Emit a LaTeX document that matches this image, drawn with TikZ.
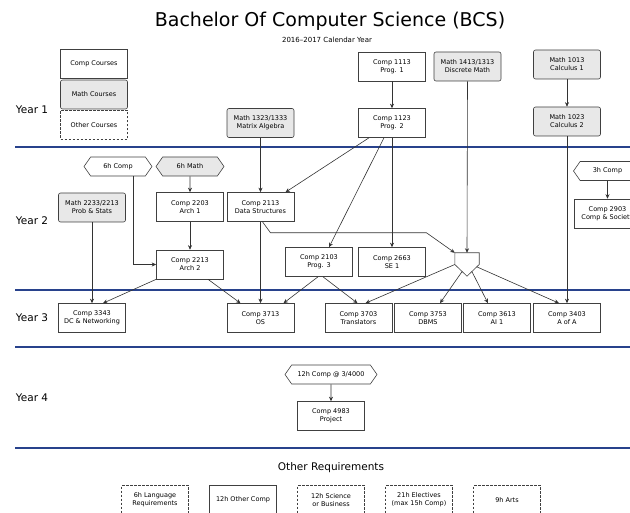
\documentclass[tikz,border=0pt]{standalone}
\usepackage{fontspec}
\setmainfont{DejaVu Sans}
\usetikzlibrary{shapes.symbols,arrows.meta,calc}
\definecolor{yearline}{RGB}{40,66,140}

\begin{document}
\begin{tikzpicture}[x=1pt,y=-1pt,
        font=\fontsize{6.5}{8}\selectfont,
        >={Stealth[length=4.5pt,width=4pt]},
        every node/.style={align=center,inner sep=1pt},
        compbox/.style={draw=black!75,line width=.6pt,fill=white,minimum width=67pt,minimum height=29pt},
        mathbox/.style={compbox,fill=gray!18,rounded corners=2pt},
        otherbox/.style={compbox,dash pattern=on 2.5pt off 1.5pt},
        hours/.style={draw=black!75,line width=.6pt,fill=white,signal,signal to=west and east,
        signal pointer angle=110,minimum width=68pt,minimum height=19pt},
        conn/.style={->,draw=black!80,line width=.6pt}]
        \useasboundingbox (0,0) rectangle (630,513);
        \clip (0,0) rectangle (630,513);

        \node (T) at (330,21.5) {\fontsize{19}{22}\selectfont Bachelor Of Computer Science (BCS)};
        \node (ST) at (327,40) {\fontsize{7}{8}\selectfont 2016--2017 Calendar Year};

        \foreach \y in {147,290,347,448}
            \draw[yearline,line width=2.5pt] (15,\y) -- (630,\y);
        \foreach \i/\y in {1/110, 2/221, 3/318, 4/398}
            \node (Y\i) at (32,\y) {\fontsize{10.5}{12}\selectfont Year \i};

        % legend
        \node[compbox] (LC) at (94,63.5) {Comp Courses};
        \node[mathbox] (LM) at (94,94.5) {Math Courses};
        \node[otherbox] (LO) at (94,125) {Other Courses};

        % Year 1
        \node[compbox] (P1) at (392,66.5) {Comp 1113\\Prog. 1};
        \node[mathbox] (DM) at (467.5,66.5) {Math 1413/1313\\Discrete Math};
        \node[mathbox] (C1) at (567,64.5) {Math 1013\\Calculus 1};
        \node[compbox] (P2) at (392,123) {Comp 1123\\Prog. 2};
        \node[mathbox] (C2) at (567,121.5) {Math 1023\\Calculus 2};
        \node[mathbox] (MA) at (260.5,123) {Math 1323/1333\\Matrix Algebra};

        % Year 2
        \node[hours] (SC) at (118,166.5) {6h Comp};
        \node[hours,fill=gray!18] (SM) at (190,166.5) {6h Math};
        \node[mathbox] (PS) at (92,207.5) {Math 2233/2213\\Prob \& Stats};
        \node[compbox] (A1) at (190,207) {Comp 2203\\Arch 1};
        \node[compbox] (DS) at (260.5,207) {Comp 2113\\Data Structures};
        \node[compbox] (A2) at (190,264.5) {Comp 2213\\Arch 2};
        \node[compbox] (P3) at (319,262) {Comp 2103\\Prog. 3};
        \node[compbox] (SE) at (392,262) {Comp 2663\\SE 1};
        \node[minimum width=24pt,minimum height=23pt,inner sep=0pt] (J) at (467,264.5) {};
        \draw[draw=black!75,line width=.6pt] (J.north west) -- (J.north east) -- (J.east) -- (J.south) -- (J.west) -- cycle;
        \node[hours] (TC) at (607.5,171) {3h Comp};
        \node[compbox] (CS) at (607.5,213.5) {Comp 2903\\Comp \& Society};

        % Year 3
        \node[compbox] (DC) at (92,318) {Comp 3343\\DC \& Networking};
        \node[compbox] (OS) at (260.5,318) {Comp 3713\\OS};
        \node[compbox] (TR) at (358.5,318) {Comp 3703\\Translators};
        \node[compbox] (DB) at (428,318) {Comp 3753\\DBMS};
        \node[compbox] (AI) at (497,318) {Comp 3613\\AI 1};
        \node[compbox] (AA) at (567,318) {Comp 3403\\A of A};

        % Year 4
        \node[hours,minimum width=92pt] (HX) at (331,374.5) {12h Comp @ 3/4000};
        \node[compbox] (PJ) at (331,416) {Comp 4983\\Project};

        % other requirements
        \node (OR) at (331,468) {\fontsize{10.5}{12}\selectfont Other Requirements};
        \foreach \i/\x/\s/\t in {1/155/otherbox/{6h Language\\Requirements}, 2/243/compbox/{12h Other Comp},
            3/331/otherbox/{12h Science\\or Business}, 4/419/otherbox/{21h Electives\\(max 15h Comp)},
            5/507/otherbox/{9h Arts}}
            \node[\s] (R\i) at (\x,500) {\t};

        % prerequisites
        \draw[conn] (P1) -- (P2);
        \draw[conn] (C1) -- (C2);
        \draw[conn] (MA) -- (DS);
        \draw[conn] ([xshift=-23pt]P2.south) -- ([xshift=25pt]DS.north);
        \draw[conn] ([xshift=-8pt]P2.south) -- ([xshift=10pt]P3.north);
        \draw[conn] (P2) -- (SE);
        \draw[conn] (DM.south) -- (J.north);
        \draw[conn] (C2) -- (AA);
        \draw[conn] (SM) -- (A1);
        \draw[conn] (A1) -- (A2);
        \draw[conn] ([xshift=15pt]SC.south) |- (A2.west);
        \draw[conn] (TC) -- (CS);
        \draw[conn] (PS) -- (DC);
        \draw[conn] ([xshift=2pt]DS.south) -- ++(8,11) -- ++(156,0) -- (J.north west);
        \draw[conn] (DS) -- (OS);
        \draw[conn] (A2.south west) -- ([xshift=11pt]DC.north);
        \draw[conn] ([xshift=18pt]A2.south) -- ([xshift=-20pt]OS.north);
        \draw[conn] ([xshift=-1pt]P3.south) -- ([xshift=23pt]OS.north);
        \draw[conn] ([xshift=4pt]P3.south) -- ([xshift=-1pt]TR.north);

        % junction
        \draw[conn] (J.west) -- ([xshift=7pt]TR.north);
        \draw[conn] ($(J.west)!.6!(J.south)$) -- ([xshift=12pt]DB.north);
        \draw[conn] ($(J.south)!.4!(J.east)$) -- ([xshift=-9pt]AI.north);
        \draw[conn] ($(J.south)!.8!(J.east)$) -- ([xshift=-8pt]AA.north);

        \draw[conn] (HX) -- (PJ);
    \end{tikzpicture}
\end{document}
